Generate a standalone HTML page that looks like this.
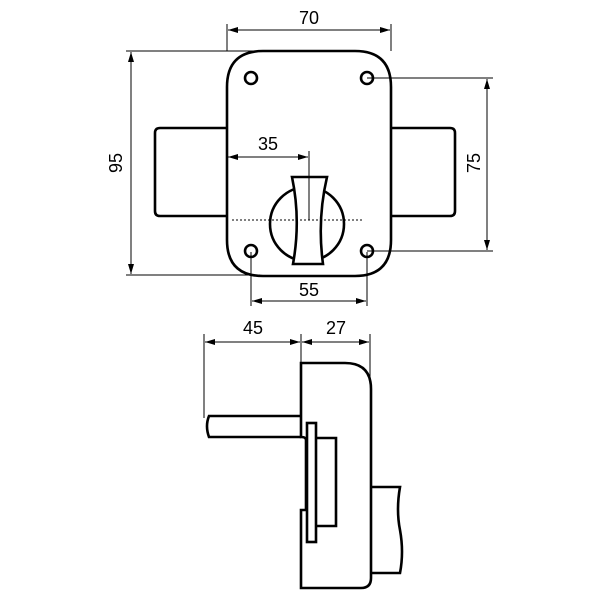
<!DOCTYPE html>
<html><head><style>body{margin:0;background:#fff}svg{display:block}</style></head><body>
<svg width="600" height="600" viewBox="0 0 600 600" xmlns="http://www.w3.org/2000/svg" font-family="Liberation Sans, sans-serif">
<defs>
<marker id="a" viewBox="0 0 10 10" refX="10" refY="5" markerWidth="10" markerHeight="10" orient="auto-start-reverse" markerUnits="userSpaceOnUse"><path d="M0,2 L10,5 L0,8 Z" fill="#000"/></marker>
</defs>
<g fill="none" stroke="#000" stroke-width="2.6">
<path d="M227,128 H160 Q155,128 155,133 V211 Q155,216 160,216 H227"/>
<path d="M391,128 H450 Q455,128 455,133 V211 Q455,216 450,216 H391"/>
<path d="M263,51 H355 Q391,51 391,87 V240 Q391,276 355,276 H263 Q227,276 227,240 V87 Q227,51 263,51 Z" fill="#fff"/>
<circle cx="251" cy="78" r="6"/><circle cx="367" cy="78" r="6"/>
<circle cx="251" cy="251" r="6"/><circle cx="367" cy="251" r="6"/>
<circle cx="307" cy="224" r="37"/>
<path d="M292,177 H327 Q317,220 323,264 H293 Q301,220 292,177 Z" fill="#fff"/>
</g>
<g stroke="#000" stroke-width="1" fill="none">
<line x1="227" y1="24" x2="227" y2="51"/><line x1="391" y1="24" x2="391" y2="51"/>
<line x1="228" y1="30" x2="390" y2="30" marker-start="url(#a)" marker-end="url(#a)"/>
<line x1="126" y1="51" x2="260" y2="51"/><line x1="126" y1="275" x2="260" y2="275"/>
<line x1="131" y1="52" x2="131" y2="274" marker-start="url(#a)" marker-end="url(#a)"/>
<line x1="367" y1="78" x2="493" y2="78"/><line x1="367" y1="251" x2="493" y2="251"/>
<line x1="487" y1="79" x2="487" y2="250" marker-start="url(#a)" marker-end="url(#a)"/>
<line x1="228" y1="157" x2="308" y2="157" marker-start="url(#a)" marker-end="url(#a)"/>
<line x1="309" y1="151" x2="309" y2="220"/>
<line x1="232" y1="220" x2="364" y2="220" stroke-dasharray="2,2"/>
<line x1="251" y1="252" x2="251" y2="306"/><line x1="367" y1="252" x2="367" y2="306"/>
<line x1="252" y1="301" x2="366" y2="301" marker-start="url(#a)" marker-end="url(#a)"/>
<line x1="204" y1="334" x2="204" y2="418"/><line x1="301" y1="334" x2="301" y2="363"/><line x1="370" y1="334" x2="370" y2="378"/>
<line x1="205" y1="342" x2="300" y2="342" marker-start="url(#a)" marker-end="url(#a)"/>
<line x1="302" y1="342" x2="369" y2="342" marker-start="url(#a)" marker-end="url(#a)"/>
</g>
<g fill="#000" font-size="18" text-anchor="middle">
<text x="309" y="24">70</text>
<text x="268" y="150">35</text>
<text x="309" y="296">55</text>
<text x="253" y="334">45</text>
<text x="336" y="334">27</text>
<text transform="translate(122,163) rotate(-90)">95</text>
<text transform="translate(480,163) rotate(-90)">75</text>
</g>
<g fill="none" stroke="#000" stroke-width="2.6">
<path d="M371,487 H400 Q396,510 400,530 Q404,552 400,573 H371"/>
<path d="M301,363 H345 Q371,363 371,389 V578 Q371,588 361,588 H301 V510 H306 V440 Q306,437 301,437 Z" fill="#fff"/>
<path d="M301,416 H209 Q205,426 209,437 H301"/>
<rect x="307" y="423" width="9" height="119" fill="#fff"/>
<path d="M316,438 H336 V526 H316"/>
</g>
</svg>
</body></html>
